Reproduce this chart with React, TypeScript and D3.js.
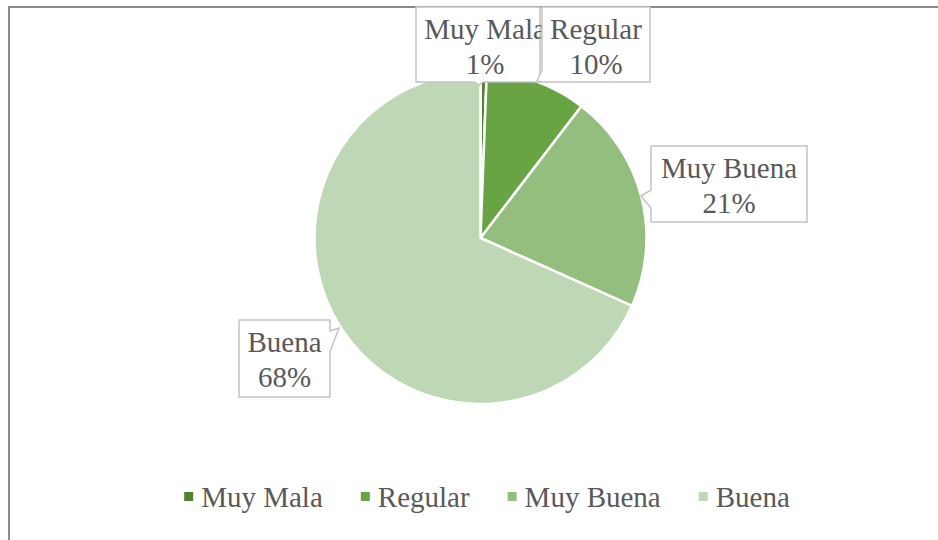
import React from "react";
import * as d3 from "d3";

const categories = ["Muy Mala", "Regular", "Muy Buena", "Buena"];
const values = [0.6, 9.8, 21.3, 68.3];
const colors = ["#548235", "#69a444", "#93be7d", "#bed7b4"];

// callout boxes (layout): [x0, y0, x1, y1]
const boxes: [number, number, number, number][] = [
  [416, 7, 540, 82],
  [542, 7, 650, 82],
  [651, 146, 807, 222],
  [239, 320, 330, 397],
];

const W = 938;
const H = 540;
const cx = 480.5;
const cy = 238;
const R = 166;
const LABEL_FONT = 29;
const LEGEND_FONT = 29;
const FONT = "'Liberation Serif', 'Times New Roman', serif";
const TEXT = "#595959";

function calloutPath(i: number): string {
  const [x0, y0, x1, y1] = boxes[i];
  if (i === 0) {
    return `M${x0},${y0}H${x1}V${y1}H483L479,85L474,${y1}H${x0}Z`;
  }
  if (i === 1) {
    return `M${x0},${y0}H${x1}V${y1}H${x0}L537,81L${x0},70Z`;
  }
  if (i === 2) {
    return `M${x0},${y0}H${x1}V${y1}H${x0}V208L641,196L${x0},190Z`;
  }
  return `M${x0},${y0}H${x1}V331L339,328L${x1},352V${y1}H${x0}Z`;
}

function measure(text: string, size: number): number {
  const c = document.createElement("canvas");
  const ctx = c.getContext("2d");
  if (!ctx) return text.length * size * 0.5;
  ctx.font = `${size}px 'Liberation Serif'`;
  return ctx.measureText(text).width;
}

export default function App() {
  const pie = d3
    .pie<number>()
    .sort(null)
    .value((d) => d)
    .startAngle(0)
    .endAngle(2 * Math.PI);
  const arcs = pie(values);
  const arcGen = d3.arc<d3.PieArcDatum<number>>().innerRadius(0).outerRadius(R);
  const total = d3.sum(values);

  // legend layout
  const marker = 9;
  const markerGap = 8;
  const itemGap = 38;
  const widths = categories.map((c) => measure(c, LEGEND_FONT));
  const itemW = widths.map((w) => marker + markerGap + w);
  const totalW = d3.sum(itemW) + itemGap * (categories.length - 1);
  const legendCenter = 487;
  let lx = legendCenter - totalW / 2;
  const legendX: number[] = [];
  itemW.forEach((w) => {
    legendX.push(lx);
    lx += w + itemGap;
  });
  const legendBase = 507;

  return (
    <div style={{ position: "absolute", left: 0, top: 0, width: W, height: H, background: "#fff" }}>
      <svg width={W} height={H} style={{ display: "block" }}>
        <rect x={0} y={0} width={W} height={H} fill="#fff" />
        <rect x={9} y={7} width={W + 50} height={H + 50} fill="none" stroke="#8a8a8a" strokeWidth={2} />
        <g transform={`translate(${cx},${cy})`}>
          {arcs.map((a, i) => (
            <path key={i} d={arcGen(a) || ""} fill={colors[i]} stroke="#fff" strokeWidth={2.5} strokeLinejoin="round" />
          ))}
        </g>
        {categories.map((c, i) => {
          const [x0, y0, x1, y1] = boxes[i];
          const tx = i === 0 ? 485 : (x0 + x1) / 2;
          const pct = Math.round((values[i] / total) * 100) + "%";
          const b1 = y0 + 32;
          return (
            <g key={c}>
              <path d={calloutPath(i)} fill="#fff" stroke="#c4c4c4" strokeWidth={1.5} />
              <text x={tx} y={b1} textAnchor="middle" fontFamily={FONT} fontSize={LABEL_FONT} fill={TEXT}>
                {c}
              </text>
              <text x={tx} y={b1 + 35} textAnchor="middle" fontFamily={FONT} fontSize={LABEL_FONT} fill={TEXT}>
                {pct}
              </text>
            </g>
          );
        })}
        {categories.map((c, i) => (
          <g key={"lg" + c}>
            <rect x={legendX[i]} y={legendBase - 15} width={marker} height={marker} fill={colors[i]} />
            <text
              x={legendX[i] + marker + markerGap}
              y={legendBase}
              fontFamily={FONT}
              fontSize={LEGEND_FONT}
              fill={TEXT}
            >
              {c}
            </text>
          </g>
        ))}
      </svg>
    </div>
  );
}
